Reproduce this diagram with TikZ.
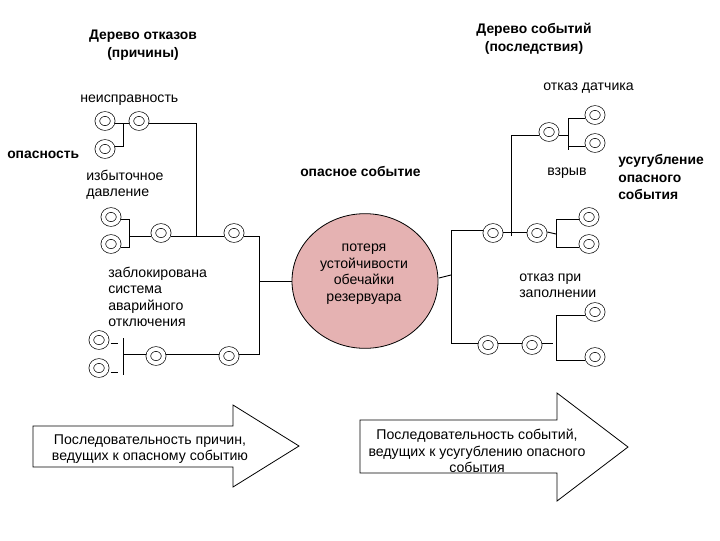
\documentclass[tikz,border=0pt]{standalone}
\usepackage{xcolor}
\usepackage{fontspec}
\setmainfont{Liberation Sans}
\usetikzlibrary{shapes.geometric, positioning, calc}
\definecolor{myrose}{RGB}{229,178,178}
\tikzset{
  evnode/.style={ellipse, draw, double, double distance=3pt, line width=0.5pt,
    minimum width=11.5pt, minimum height=10.5pt, inner sep=0pt, outer sep=2pt},
  lab/.style={font=\fontsize{10.6}{12.3}\selectfont, align=left, anchor=west, inner sep=0pt},
  blab/.style={font=\fontsize{10.4}{13}\selectfont\bfseries, align=left, anchor=west, inner sep=0pt},
  clab/.style={font=\fontsize{10.6}{12.5}\selectfont, align=center, inner sep=0pt},
  hlab/.style={font=\fontsize{10.4}{13.2}\selectfont\bfseries, align=center, inner sep=0pt},
  bigarrow/.style={draw, fill=white, line width=0.6pt},
  line/.style={line width=0.7pt}
}
\begin{document}
\begin{tikzpicture}[x=0.75pt,y=-0.75pt]
  \useasboundingbox (0,0) rectangle (720,540);
  % causes
  \foreach \name/\x/\y in {fa/105/121,fb/139/121,fc/105/149,fd/111/217,fe/111/244,ff/161/233,fg/234/233,
      fh/99/340,fi/99/368,fj/156/356,fk/229/356} {
    \node[evnode] (\name) at (\x,\y) {};
  }
  % effects
  \foreach \name/\x/\y in {ga/493/233,gb/537/233,gc/589/217,gd/589/244,ge/549/132,gf/595/115,gg/595/143,
      gh/488/345,gi/532/345,gj/595/312,gk/595/357} {
    \node[evnode] (\name) at (\x,\y) {};
  }
  \node[ellipse, draw, fill=myrose, line width=0.6pt, minimum width=109.5pt, minimum height=101pt, inner sep=0pt] (hazard) at (365,281) {};
  \node[clab] (hazardlab) at (364,274) {потеря\\устойчивости\\обечайки\\резервуара};

  % left tree
  \coordinate (ja) at (123,123);
  \coordinate (jb) at (123,146);
  \coordinate (jc) at (196,123);
  \coordinate (jd) at (196,236);
  \coordinate (je) at (129,219);
  \coordinate (jf) at (129,247);
  \coordinate (jg) at (129,236);
  \coordinate (jh) at (259,236);
  \coordinate (ji) at (259,281);
  \coordinate (jj) at (259,354);
  \coordinate (jk) at (123,338);
  \coordinate (jl) at (123,375);
  \coordinate (jm) at (124,354);
  \draw[line] (fa.east |- ja) -- (fb.west |- ja);
  \draw[line] (ja) -- (jb) -- (fc.east |- jb);
  \draw[line] (fb.east |- jc) -- (jc) -- (jd);
  \draw[line] (fd.east |- je) -- (je) -- (jf) -- (fe.east |- jf);
  \draw[line] (jg) -- (ff.west |- jg);
  \draw[line] (ff.east |- jg) -- (fg.west |- jg);
  \draw[line] (fg.east |- jh) -- (jh) -- (jj) -- (fk.east |- jj);
  \draw[line] (ji) -- (hazard.west |- ji);
  \draw[line] (jk) -- (jl);
  \draw[line] ([xshift=1pt]fh.east |- 0,343) -- ++(7,0);
  \draw[line] ([xshift=1pt]fi.east |- 0,372) -- ++(7,0);
  \draw[line] (jm) -- (fj.west |- jm);
  \draw[line] (fj.east |- jm) -- (fk.west |- jm);

  % right tree
  \coordinate (ka) at (451,230);
  \coordinate (kb) at (451,343);
  \coordinate (kc) at (439,278);
  \coordinate (kd) at (451,275);
  \coordinate (ke) at (511,232);
  \coordinate (kf) at (511,135);
  \coordinate (kg) at (568,135);
  \coordinate (kh) at (568,118);
  \coordinate (ki) at (568,150);
  \coordinate (kj) at (568,146);
  \coordinate (kk) at (556,219);
  \coordinate (kl) at (556,247);
  \coordinate (km) at (556,315);
  \coordinate (kn) at (556,360);
  \coordinate (ko) at (553,343);
  \draw[line] (ga.west |- ka) -- (ka) -- (kb) -- (gh.west |- kb);
  \draw[line] (kc) -- (kd);
  \draw[line] (ga.east |- ke) -- (gb.west |- ke);
  \draw[line] ([yshift=-3pt]ke) -- (kf) -- (ge.west |- kf);
  \draw[line] (ge.east |- kg) -- (kg);
  \draw[line] (gf.west |- kh) -- (kh) -- (ki);
  \draw[line] (kj) -- (gg.west |- kj);
  \draw[line] (gb.east |- 0,232) -- (556,234);
  \draw[line] (gc.west |- kk) -- (kk) -- (kl) -- (gd.west |- kl);
  \draw[line] (gh.east |- kb) -- (gi.west |- kb);
  \draw[line] (gi.east |- kb) -- (ko);
  \draw[line] (gj.west |- km) -- (km) -- (kn) -- (gk.west |- kn);

  % block arrows
  \draw[bigarrow] (33,426) -- (233,426) -- (233,405) -- (299,446) -- (233,487) -- (233,467) -- (33,467) -- cycle;
  \draw[bigarrow] (360,420) -- (557,420) -- (557,393) -- (628,447) -- (557,501) -- (557,473) -- (360,473) -- cycle;

  \node[hlab] (ftitle) at (143,45) {Дерево отказов\\(причины)};
  \node[hlab] (gtitle) at (534,39) {Дерево событий\\(последствия)};
  \node[lab] (fault) at (80,100) {неисправность};
  \node[blab] (danger) at (7,155) {опасность};
  \node[lab] (press) at (86,185) {избыточное\\давление};
  \node[lab] (block) at (108,297) {заблокирована\\система\\аварийного\\отключения};
  \node[blab] (event) at (300,171) {опасное событие};
  \node[lab] (sensor) at (543,88) {отказ датчика};
  \node[lab] (blast) at (547,173) {взрыв};
  \node[blab] (worse) at (618,177) {усугубление\\опасного\\события};
  \node[lab] (fill) at (519,286) {отказ при\\заполнении};
  \node[clab] (farrow) at (150,449) {Последовательность причин,\\ведущих к опасному событию};
  \node[clab] (garrow) at (477,451) {Последовательность событий,\\ведущих к усугублению опасного\\события};
\end{tikzpicture}
\end{document}
